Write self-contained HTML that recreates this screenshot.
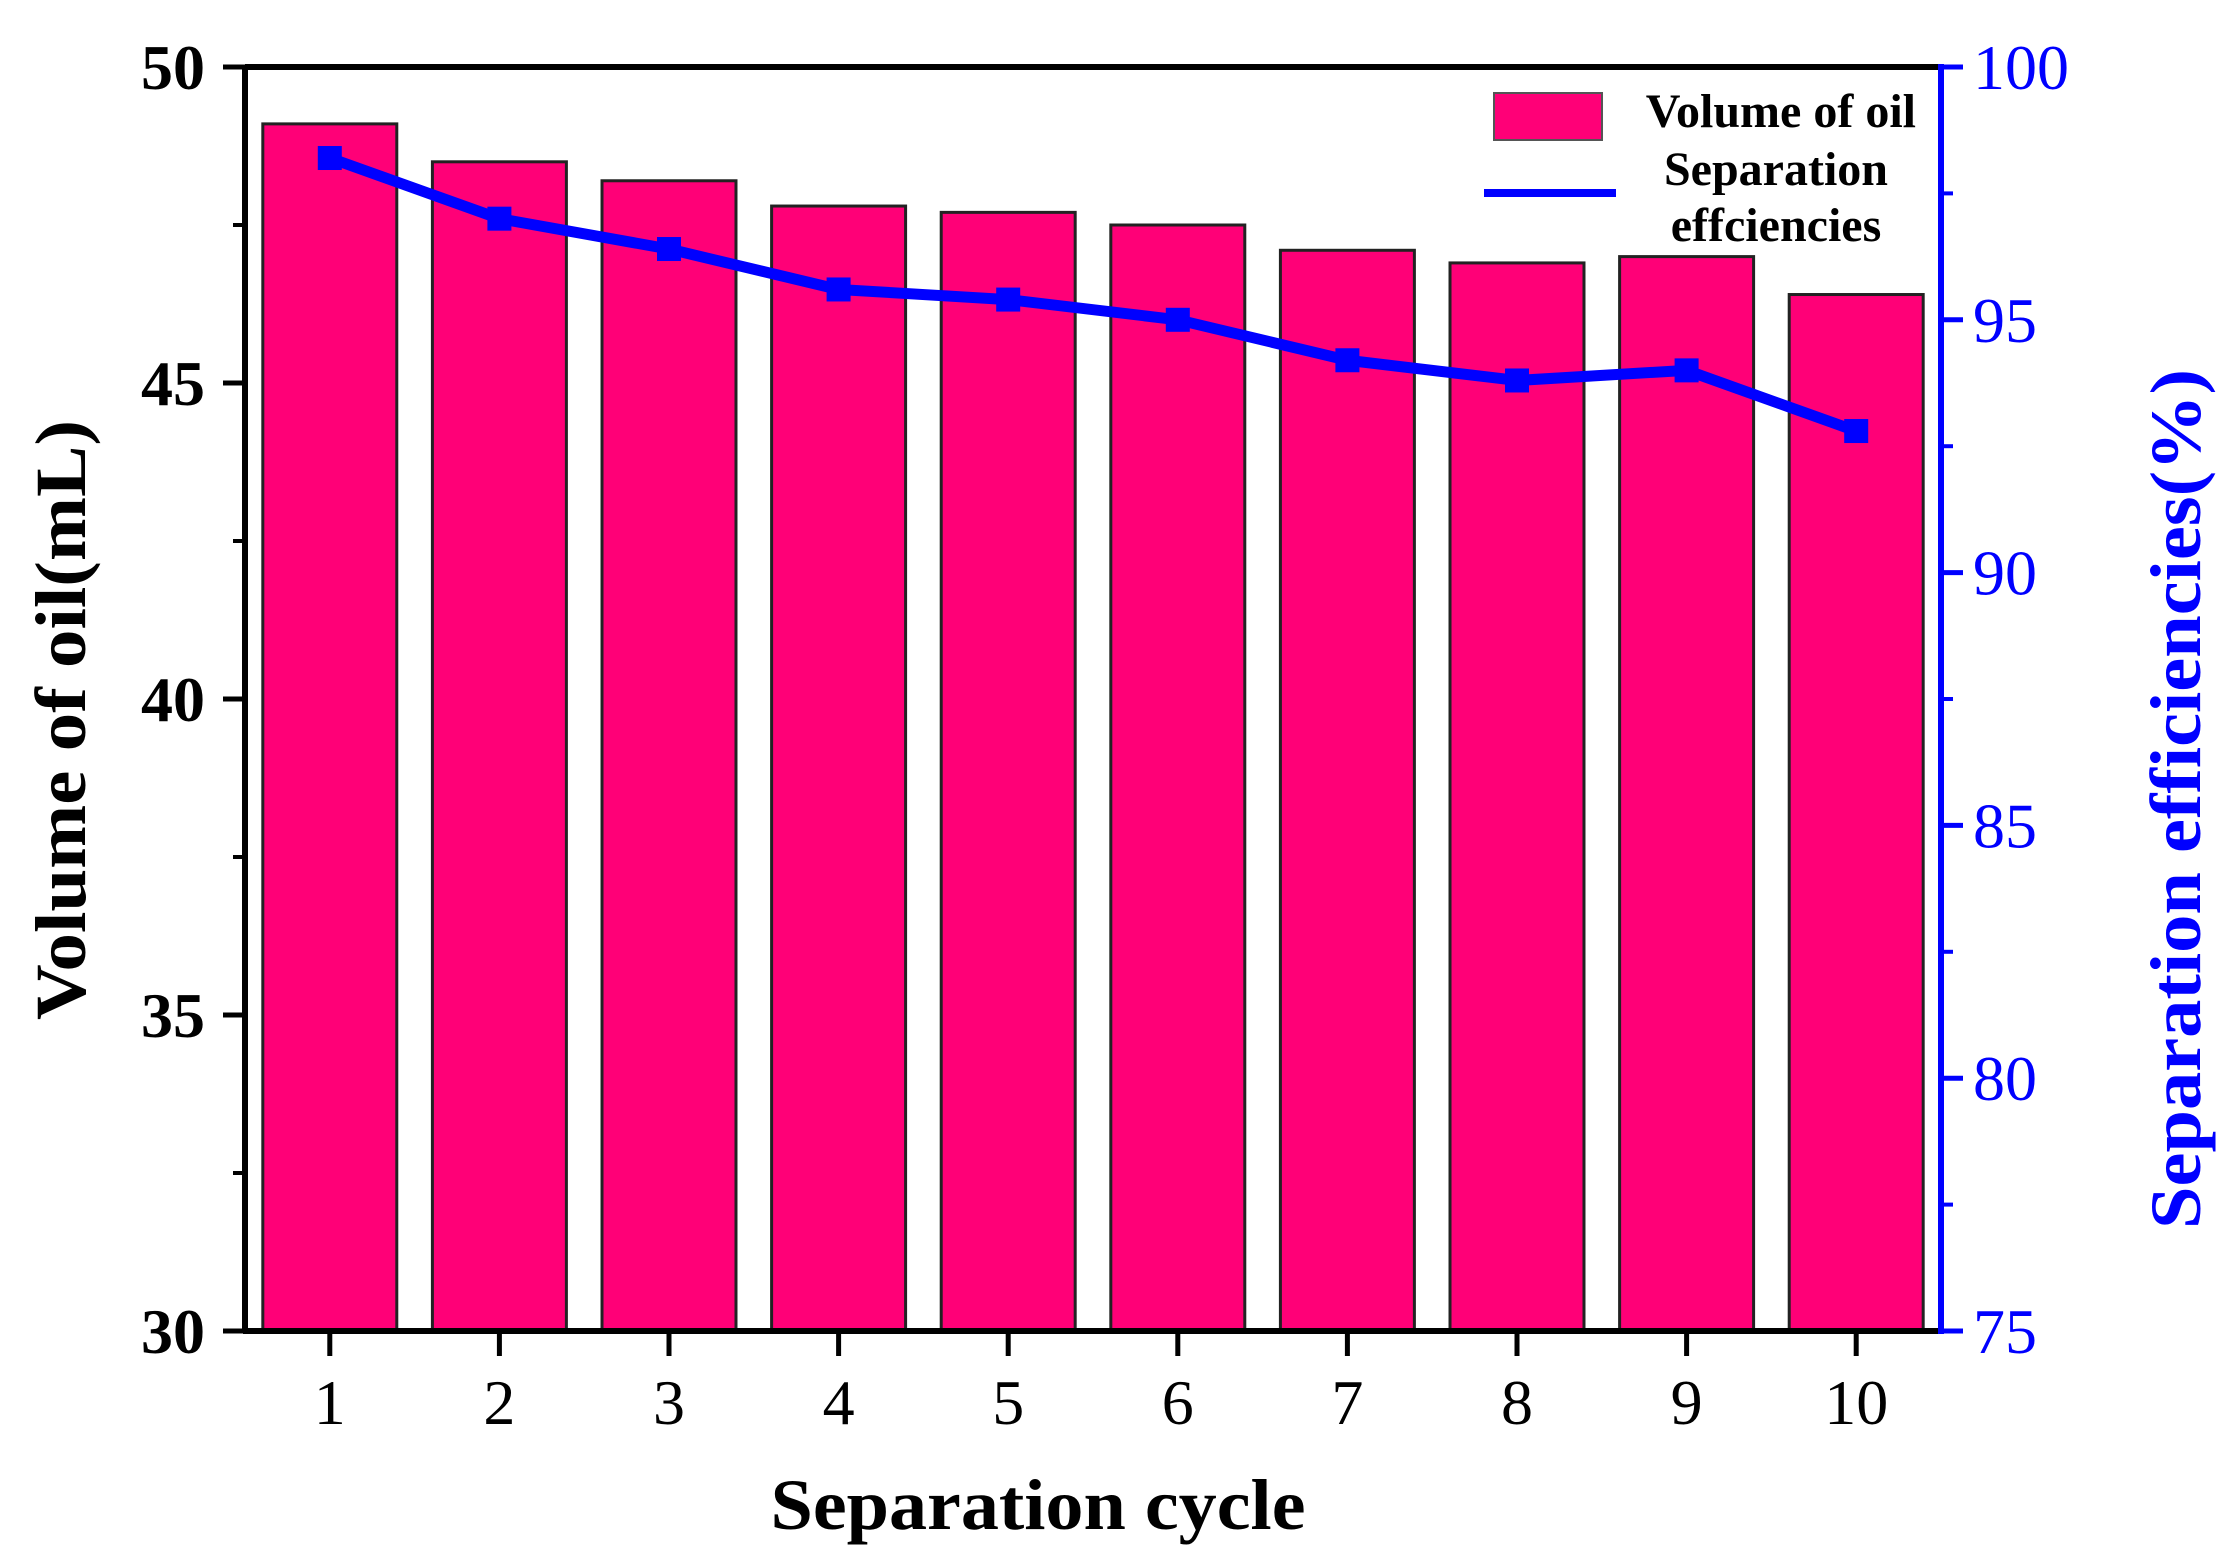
<!DOCTYPE html>
<html><head><meta charset="utf-8"><style>
html,body{margin:0;padding:0;background:#fff;}
svg{display:block;}
text{font-family:"Liberation Serif",serif;}
</style></head><body>
<svg id="chart" width="2237" height="1566" viewBox="0 0 2237 1566" xmlns="http://www.w3.org/2000/svg">
<g id="bars"></g>
<g id="line"></g>
<g id="axes"></g>
<g>
  <rect x="1494" y="93" width="108" height="47" fill="#ff0077" stroke="#555" stroke-width="2"/>
  <text x="1916" y="127" text-anchor="end" font-size="48" font-weight="bold">Volume of oil</text>
  <line x1="1484" y1="193" x2="1616" y2="193" stroke="#0000ff" stroke-width="8"/>
  <text x="1776" y="185" text-anchor="middle" font-size="48" font-weight="bold">Separation</text>
  <text x="1776" y="241" text-anchor="middle" font-size="48" font-weight="bold">effciencies</text>
</g>
<text x="1038" y="1529" text-anchor="middle" font-size="72" font-weight="bold" textLength="535" lengthAdjust="spacingAndGlyphs">Separation cycle</text>
<text transform="translate(85,720) rotate(-90)" text-anchor="middle" font-size="72" font-weight="bold" textLength="600" lengthAdjust="spacingAndGlyphs">Volume of oil(mL)</text>
<text transform="translate(2200,799) rotate(-90)" text-anchor="middle" font-size="72" font-weight="bold" fill="#0000ff" textLength="860" lengthAdjust="spacingAndGlyphs">Separation efficiencies(%)</text>
</svg>
<script>
const categories = [1,2,3,4,5,6,7,8,9,10];
const volumeValues = [49.1,48.5,48.2,47.8,47.7,47.5,47.1,46.9,47.0,46.4];
const efficiencyValues = [98.2,97.0,96.4,95.6,95.4,95.0,94.2,93.8,94.0,92.8];
const leftTicks = [30,35,40,45,50];
const rightTicks = [75,80,85,90,95,100];

const PL=245,PR=1941,PT=67,PB=1331;
const NS='http://www.w3.org/2000/svg';
function xS(c){return PL+(c-0.5)/10*(PR-PL);}
function yL(v){return PB-(v-30)/20*(PB-PT);}
function yR(v){return PB-(v-75)/25*(PB-PT);}
function mk(tag,attrs,parent){const e=document.createElementNS(NS,tag);for(const k in attrs)e.setAttribute(k,attrs[k]);parent.appendChild(e);return e;}
const barsG=document.getElementById('bars'),lineG=document.getElementById('line'),axesG=document.getElementById('axes');
const bw=(PR-PL)/10*0.79;
categories.forEach((c,i)=>{
  const r=mk('rect',{x:xS(c)-bw/2,y:yL(volumeValues[i]),width:bw,height:PB-yL(volumeValues[i]),fill:'#ff0077',stroke:'#222','stroke-width':3},barsG);
  
  
});
const pts=categories.map((c,i)=>xS(c)+','+yR(efficiencyValues[i])).join(' ');
const pl=mk('polyline',{points:pts,fill:'none',stroke:'#0000ff','stroke-width':11,'stroke-linejoin':'round'},lineG);


categories.forEach((c,i)=>{
  const m=mk('rect',{x:xS(c)-12,y:yR(efficiencyValues[i])-12,width:24,height:24,fill:'#0000ff'},lineG);
  
  
});
const topAx=mk('line',{x1:PL,y1:PT,x2:PR,y2:PT,stroke:'#000','stroke-width':6},axesG);


const botAx=mk('line',{x1:PL-2,y1:PB,x2:PR,y2:PB,stroke:'#000','stroke-width':6},axesG);


const lftAx=mk('line',{x1:PL,y1:PT,x2:PL,y2:PB,stroke:'#000','stroke-width':6},axesG);


const rgtAx=mk('line',{x1:PR,y1:PT-3,x2:PR,y2:PB+3,stroke:'#0000ff','stroke-width':6},axesG);


leftTicks.forEach((v,i)=>{
  const y=yL(v);
  const t=mk('line',{x1:PL-22,y1:y,x2:PL,y2:y,stroke:'#000','stroke-width':5},axesG);
  
  
  const lb=mk('text',{x:PL-40,y:y+22,'text-anchor':'end','font-size':64,'font-weight':'bold'},axesG);
  lb.textContent=v;
  
  
  if(i<leftTicks.length-1){
    const ym=yL(v+2.5);
    const mt=mk('line',{x1:PL-12,y1:ym,x2:PL,y2:ym,stroke:'#000','stroke-width':4},axesG);
    
    
  }
});
rightTicks.forEach((v,i)=>{
  const y=yR(v);
  const t=mk('line',{x1:PR,y1:y,x2:PR+22,y2:y,stroke:'#0000ff','stroke-width':5},axesG);
  
  
  const lb=mk('text',{x:PR+32,y:y+22,'text-anchor':'start','font-size':64,fill:'#0000ff'},axesG);
  lb.textContent=v;
  
  
  if(i<rightTicks.length-1){
    const ym=yR(v+2.5);
    const mt=mk('line',{x1:PR,y1:ym,x2:PR+12,y2:ym,stroke:'#0000ff','stroke-width':4},axesG);
    
    
  }
});
categories.forEach(c=>{
  const x=xS(c);
  const t=mk('line',{x1:x,y1:PB,x2:x,y2:PB+25,stroke:'#000','stroke-width':5},axesG);
  
  
  const lb=mk('text',{x:x,y:1424,'text-anchor':'middle','font-size':64},axesG);
  lb.textContent=c;
  
  
});
</script>
</body></html>
